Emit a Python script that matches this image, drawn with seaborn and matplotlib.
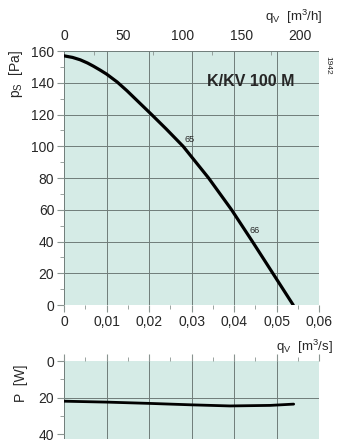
import numpy as np
import pandas as pd
import matplotlib
matplotlib.use('Agg')
import matplotlib.pyplot as plt
import seaborn as sns
from matplotlib.ticker import MultipleLocator, FixedLocator, FuncFormatter

# fan curve K/KV 100 M  (q_v in m3/s)
qv = [0, 0.002, 0.0038, 0.0055, 0.0069, 0.0085, 0.01, 0.0125, 0.0148, 0.0175,
      0.0204, 0.024, 0.028, 0.034, 0.0394, 0.0443, 0.0491, 0.0539]
ps = [157, 156, 154.5, 152.5, 150.5, 148, 145.5, 140.5, 135, 128,
      120.5, 111, 100, 80, 60, 40, 20, 0]

# power curve
qv_p = [0, 0.01, 0.02, 0.03, 0.039, 0.0485, 0.054]
power = [22, 22.5, 23.2, 24, 24.6, 24.3, 23.6]

title = 'K/KV 100 M'
curve_labels = ['65', '66']
label_pos = [(0.0295, 104), (0.0449, 47)]
top_ticks = [0, 50, 100, 150, 200]
top_minor = [25, 75, 125, 175]

sns.set_style('white')
plt.rcParams['font.family'] = ['Liberation Sans', 'DejaVu Sans']
plt.rcParams['mathtext.fontset'] = 'custom'
plt.rcParams['mathtext.rm'] = 'Liberation Sans'
plt.rcParams['mathtext.it'] = 'Liberation Sans'

bg = '#d5ebe6'
gridc = '#6f7c79'
tickc = '#8a9491'

fig = plt.figure(figsize=(3.5, 4.48), dpi=100)
ax = fig.add_axes([0.183, 0.319, 0.729, 0.567])
ax2 = fig.add_axes([0.183, 0.019, 0.729, 0.175])

df = pd.DataFrame({'qv': qv, 'ps': ps})
dfp = pd.DataFrame({'qv': qv_p, 'P': power})


def comma(x, pos):
    if abs(x) < 1e-9:
        return '0'
    return ('%.2f' % x).replace('.', ',')


for a in (ax, ax2):
    a.set_facecolor(bg)
    for s in a.spines.values():
        s.set_visible(False)
    a.set_xlim(0, 0.06)
    a.xaxis.set_major_locator(MultipleLocator(0.01))
    a.xaxis.set_minor_locator(MultipleLocator(0.005))
    a.tick_params(which='both', color=tickc, labelsize=10, pad=2)
    a.tick_params(which='major', length=5)
    a.tick_params(which='minor', length=3)

# pressure curve
sns.lineplot(data=df, x='qv', y='ps', ax=ax, color='black', lw=2.3)
ax.grid(True, which='major', color=gridc, lw=0.7)
ax.set_ylim(0, 160)
ax.yaxis.set_major_locator(MultipleLocator(20))
ax.yaxis.set_minor_locator(MultipleLocator(10))
ax.xaxis.set_major_formatter(FuncFormatter(comma))
ax.tick_params(axis='both', which='both', left=True, bottom=True, direction='out')
ax.set_xlabel('')
ax.set_ylabel(r'$\mathregular{p_S}$  [Pa]', fontsize=10)
ax.yaxis.set_label_coords(-0.155, 0.91)

top = ax.secondary_xaxis('top', functions=(lambda x: x * 3600, lambda x: x / 3600))
top.xaxis.set_major_locator(FixedLocator(top_ticks))
top.xaxis.set_minor_locator(FixedLocator(top_minor))
top.tick_params(which='both', color=tickc, labelsize=10, direction='in', pad=6)
top.tick_params(which='major', length=0)
top.tick_params(which='minor', length=3)
for s in top.spines.values():
    s.set_visible(False)

ax.text(0.0438, 141, title, fontsize=11.5, fontweight='bold', ha='center', va='center')
for lab, (x, y) in zip(curve_labels, label_pos):
    ax.text(x, y, lab, fontsize=6.5, ha='center', va='center')

fig.text(0.757, 0.962, r'$\mathregular{q_V}$  [m$\mathregular{^3}$/h]', fontsize=9.5, ha='left', va='center')
fig.text(0.79, 0.225, r'$\mathregular{q_V}$  [m$\mathregular{^3}$/s]', fontsize=9.5, ha='left', va='center')
fig.text(0.937, 0.855, '1942', fontsize=6, rotation=270, ha='center', va='center')

# power curve
sns.lineplot(data=dfp, x='qv', y='P', ax=ax2, color='black', lw=2.0)
ax2.grid(True, axis='x', which='major', color=gridc, lw=0.7)
ax2.axhline(20, color=gridc, lw=0.7, zorder=0.5)
ax2.set_ylim(43, 0)
ax2.set_yticks([0, 20, 40])
ax2.yaxis.set_minor_locator(MultipleLocator(10))
ax2.xaxis.set_ticks_position('top')
ax2.tick_params(axis='x', which='both', top=True, bottom=False, labeltop=False, labelbottom=False, direction='out')
ax2.tick_params(axis='y', which='both', left=True, direction='out')
ax2.set_xlabel('')
ax2.set_ylabel('P  [W]', fontsize=10)
ax2.yaxis.set_label_coords(-0.14, 0.72)

fig.savefig('out.png', dpi=100)
